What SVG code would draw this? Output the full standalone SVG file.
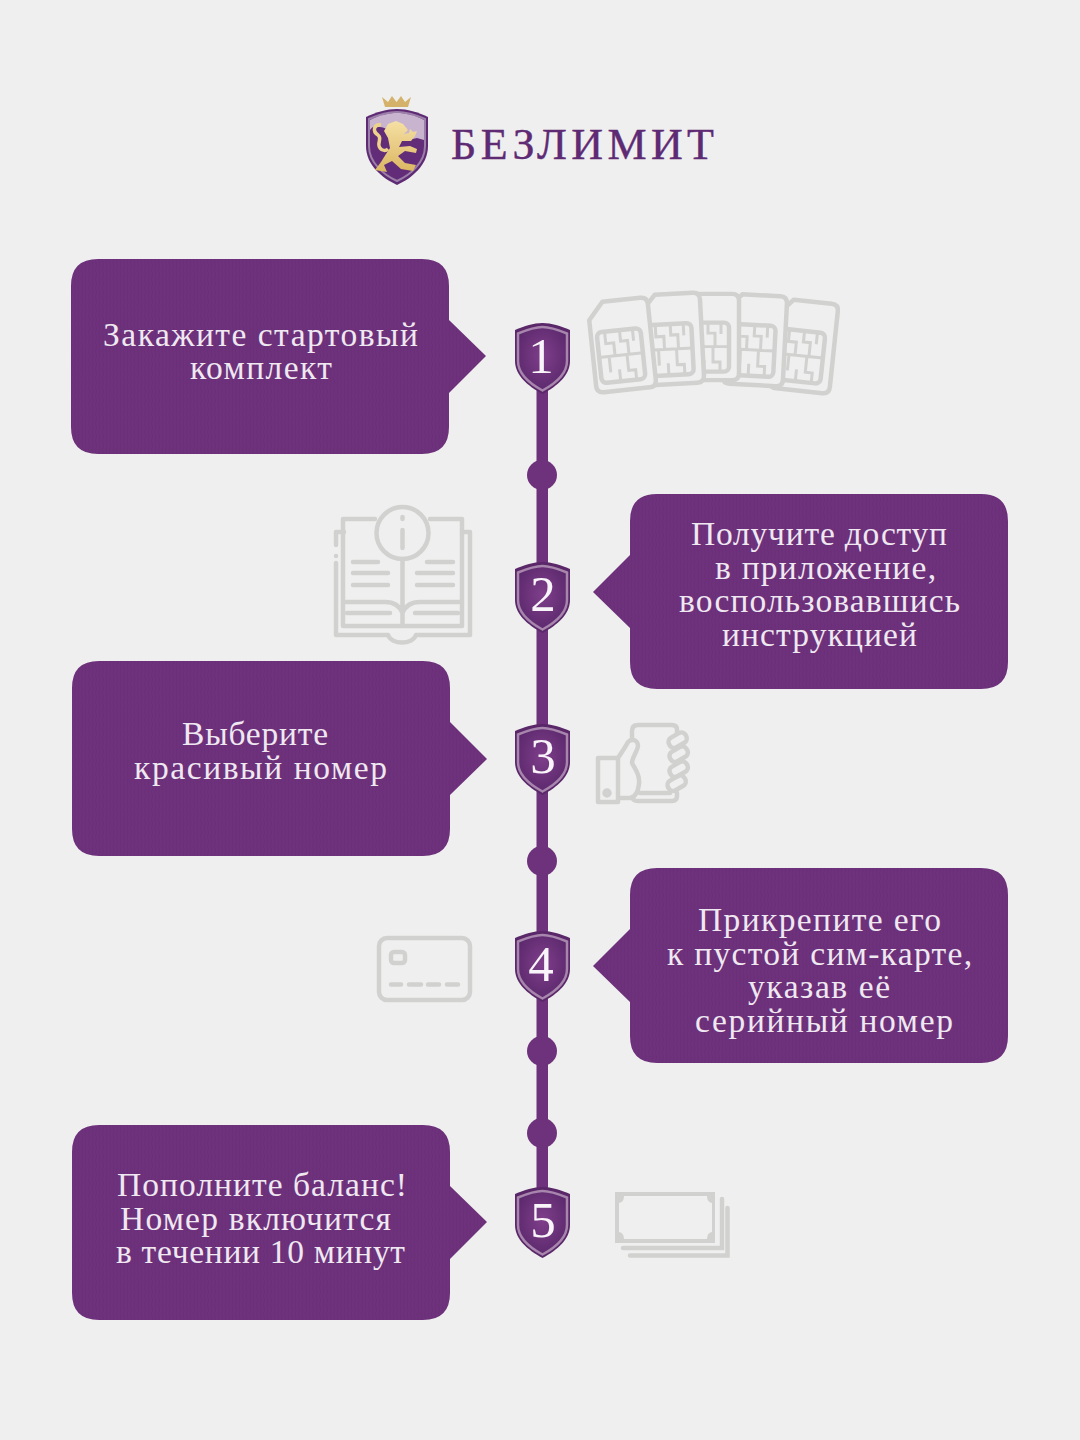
<svg xmlns="http://www.w3.org/2000/svg" width="1080" height="1440" viewBox="0 0 1080 1440">
<style>
.t{font-family:"Liberation Serif","Noto Sans CJK SC",serif;font-size:33.500px;fill:#efe8f1;text-anchor:middle}
.n{font-family:"Liberation Serif",serif;font-size:51px;fill:#f8f4f9;text-anchor:middle}
.i{fill:none;stroke:#d1d1cf;stroke-width:4.500;stroke-linecap:round;stroke-linejoin:round}
.b{fill:url(#weave)}
.line{fill:#6e327c}
</style>
<defs>
<pattern id="weave" width="7" height="9" patternUnits="userSpaceOnUse">
<rect width="7" height="9" fill="#6e327c"/>
<path d="M1 0Q3 4.500 1 9M4.500 0Q6.500 4.500 4.500 9" fill="none" stroke="#6a2e78" stroke-width="1"/>
</pattern>
<radialGradient id="sg" cx=".5" cy=".45" r=".6"><stop offset="0" stop-color="#7f3e8b"/><stop offset="1" stop-color="#5a286b"/></radialGradient>
<linearGradient id="gold" x1="0" y1="0" x2="0" y2="1"><stop offset="0" stop-color="#f5e0a4"/><stop offset="1" stop-color="#dcb662"/></linearGradient>
<g id="shield">
<path d="M-27.500-28C-18-32-9-35 0-35C9-35 18-32 27.500-28L27.500 3C27.500 17 15 28 0 36C-15 28-27.500 17-27.500 3Z" fill="#5a2769"/>
<path d="M-24.500-24.500C-16-28-8-31 0-31C8-31 16-28 24.500-24.500L24.500 3C24.500 15 13 25.500 0 32.500C-13 25.500-24.500 15-24.500 3Z" fill="url(#sg)" stroke="#a785ad" stroke-width="2.500"/>
</g>
<g id="sim">
<path d="M-15-45L23-45Q30-45 30-38L30 38Q30 45 23 45L-23 45Q-30 45-30 38L-30-28Z" fill="#efefef" stroke="#d1d1cf" stroke-width="4.500" stroke-linejoin="round"/>
<rect x="-24" y="-15" width="44" height="51" rx="5" fill="none" stroke="#d1d1cf" stroke-width="4.500"/>
<path d="M-24 10H20M-16-15V-3H-8V10M-1-15V-4H6V10M12-15V-3M-14 10V26M-5 24V36M4 10V26H11V36" fill="none" stroke="#d1d1cf" stroke-width="3"/>
</g>
</defs>
<rect width="1080" height="1440" fill="#efefef"/>

<g id="connectors">
<rect x="536.500" y="380" width="11.500" height="830" class="line"/>
<circle cx="542" cy="475" r="15" class="line"/>
<circle cx="542" cy="861" r="15" class="line"/>
<circle cx="542" cy="1051" r="15" class="line"/>
<circle cx="542" cy="1133" r="15" class="line"/>
</g>

<g id="logo">
<path d="M382 97L388 102L392 96L396.500 102L401 96L405 102L411 97L408 107H385Z" fill="#d5b269"/>
<path d="M366 117C376 112 387 109 397 109C407 109 418 112 428 117V146C428 165 412 178 397 185C382 178 366 165 366 146Z" fill="#5e2a74"/>
<path d="M369 119C378 115 388 112 397 112C406 112 416 115 425 119V146C425 163 410 175 397 181C384 175 369 163 369 146Z" fill="#622c78" stroke="#9c7fa8" stroke-width="2"/>
<path d="M370 120C380 115 389 113 397 113C405 113 414 115 424 120V140L417 138C410 140 404 139 400 138C394 133 388 128 380 127C375 125 372 127 370 130Z" fill="#c9b4d0"/>
<path d="M388 124L396 121L403 124L408 130L404 134L409 133L410 129L413 132L417 131L415 136L411 141L402 141L399 147L410 146L417 149L416 153L405 151L398 156L405 163L416 165L413 171L401 169L392 161L384 165L387 172L375 170L381 162L386 154L390 148L388 138L384 131Z" fill="url(#gold)"/>
<path d="M381 125C374 124 372 131 378 135C383 139 376 143 380 148C382 151 386 151 388 149" fill="none" stroke="#ecd28b" stroke-width="3.500"/>
</g>
<text id="brand" x="582.500" y="159" font-family="Liberation Serif,serif" font-size="44" text-anchor="middle" fill="#5e2a74" stroke="#5e2a74" stroke-width=".4" textLength="263">БЕЗЛИМИТ</text>

<g id="step1">
<path class="b" d="M98 259H422Q449 259 449 286V320L486 356L449 393V427Q449 454 422 454H98Q71 454 71 427V286Q71 259 98 259Z"/>
<text class="t" x="260.500" y="346" textLength="315">Закажите стартовый</text>
<text class="t" x="261" y="379" textLength="142">комплект</text>
<use href="#shield" x="542.500" y="358"/>
<text class="n" x="541" y="373">1</text>
</g>
<g id="sims">
<use href="#sim" transform="translate(804 346) rotate(6)"/>
<use href="#sim" transform="translate(755 340) rotate(3)"/>
<use href="#sim" transform="translate(709 337) scale(1 .96)"/>
<use href="#sim" transform="translate(672 339) rotate(-3)"/>
<use href="#sim" transform="translate(622 345) rotate(-6)"/>
</g>

<g id="step2">
<path class="b" d="M1008 521V662Q1008 689 981 689H657Q630 689 630 662V628L593 592L630 555V521Q630 494 657 494H981Q1008 494 1008 521Z"/>
<text class="t" x="819" y="545" textLength="256">Получите доступ</text>
<text class="t" x="825.500" y="579" textLength="221">в приложение,</text>
<text class="t" x="819.500" y="612" textLength="281">воспользовавшись</text>
<text class="t" x="819.500" y="646" textLength="195">инструкцией</text>
<use href="#shield" x="542.500" y="597"/>
<text class="n" x="543" y="611">2</text>
</g>
<g id="book" class="i">
<path d="M336 545V532H344M336 556V556M336 563V635H388C392 645 412 645 416 635H470V532H462"/>
<path d="M375 519H343V626H462V519H430"/>
<circle cx="402.500" cy="533" r="26"/>
<path d="M402.500 517V519M402.500 530V548M402.500 559V626M353 562H378M353 573H388M353 585H388M427 562H453M417 573H453M417 585H453M343 602H385Q398 602 402.500 613Q407 602 420 602H462M347 613H390M415 613H458"/>
</g>

<g id="step3">
<path class="b" d="M99 661H423Q450 661 450 688V722L487 759L450 795V829Q450 856 423 856H99Q72 856 72 829V688Q72 661 99 661Z"/>
<text class="t" x="255" y="745" textLength="146">Выберите</text>
<text class="t" x="260.500" y="779" textLength="253">красивый номер</text>
<use href="#shield" x="542.500" y="759"/>
<text class="n" x="543" y="773">3</text>
</g>
<g id="phone" class="i">
<path d="M632 740V731Q632 725 638 725H672Q677 725 677 730V733M677 793V796Q677 801 672 801H638Q633 801 632 797M640 793H670M598 758H618V802H598ZM618 758C622 752 626 746 628 742C632 738 638 740 638 746C637 752 632 758 632 763C636 770 640 776 639 784C638 792 636 797 630 798L620 798"/>
<circle cx="607" cy="793" r="2.500"/>
<rect x="668" y="735" width="19" height="11" rx="5" transform="rotate(-30 677 740)"/>
<rect x="669" y="749" width="19" height="11" rx="5" transform="rotate(-30 678 754)"/>
<rect x="669" y="764" width="19" height="11" rx="5" transform="rotate(-30 678 769)"/>
<rect x="667" y="778" width="19" height="11" rx="5" transform="rotate(-30 676 783)"/>
</g>

<g id="step4">
<path class="b" d="M1008 895V1036Q1008 1063 981 1063H657Q630 1063 630 1036V1002L593 966L630 929V895Q630 868 657 868H981Q1008 868 1008 895Z"/>
<text class="t" x="819.500" y="931" textLength="243">Прикрепите его</text>
<text class="t" x="819.500" y="965" textLength="305">к пустой сим-карте,</text>
<text class="t" x="819" y="998" textLength="142">указав её</text>
<text class="t" x="824" y="1032" textLength="258">серийный номер</text>
<use href="#shield" x="542.500" y="966"/>
<text class="n" x="541" y="981">4</text>
</g>
<g id="card" class="i">
<rect x="379" y="938" width="91" height="62" rx="8"/>
<rect x="391" y="952" width="14" height="11" rx="3"/>
<path d="M391 984.500H401M409 984.500H421M428 984.500H439M447 984.500H458"/>
</g>

<g id="step5">
<path class="b" d="M99 1125H423Q450 1125 450 1152V1186L487 1222L450 1259V1293Q450 1320 423 1320H99Q72 1320 72 1293V1152Q72 1125 99 1125Z"/>
<text class="t" x="262" y="1196" textLength="290">Пополните баланс!</text>
<text class="t" x="255.500" y="1230" textLength="271">Номер включится</text>
<text class="t" x="260.500" y="1263" textLength="289">в течении 10 минут</text>
<use href="#shield" x="542.500" y="1222"/>
<text class="n" x="543" y="1237">5</text>
</g>
<g id="money">
<path fill-rule="evenodd" fill="#d1d1cf" d="M615 1192H715V1243H615ZM624 1196Q624 1202 619 1203V1232Q624 1233 624 1239H707Q707 1233 712 1232V1203Q707 1202 707 1196Z"/>
<path d="M623 1248H722V1199" fill="none" stroke="#d1d1cf" stroke-width="4.500" stroke-linecap="round"/>
<path d="M630 1255.500H727.500V1208" fill="none" stroke="#d1d1cf" stroke-width="4.500" stroke-linecap="round"/>
</g>
</svg>
